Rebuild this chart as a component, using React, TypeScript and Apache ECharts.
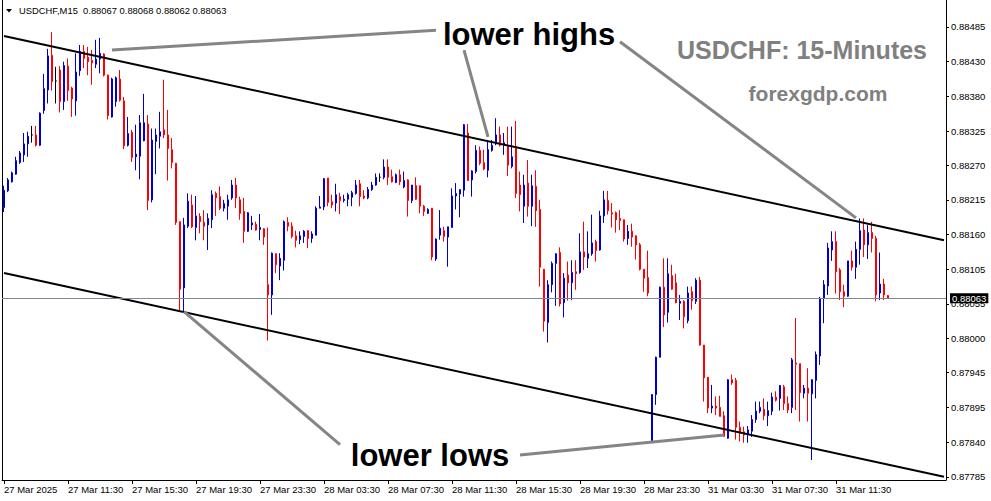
import React, { useEffect, useRef } from "react";
import * as echarts from "echarts";

// [open, close, low, high] per 15-minute candle
const session27Mar: number[][] = [
  [0.88204, 0.88231, 0.88197, 0.88238], [0.8823, 0.88247, 0.88228, 0.8825], [0.88244, 0.88258, 0.88243, 0.8826],
  [0.88256, 0.88277, 0.88255, 0.88283], [0.88274, 0.88289, 0.88272, 0.88292], [0.88286, 0.88303, 0.88275, 0.8832],
  [0.88303, 0.88315, 0.88283, 0.88322], [0.88317, 0.88317, 0.88305, 0.88331], [0.88317, 0.88301, 0.88299, 0.88331],
  [0.88301, 0.88351, 0.883, 0.88352], [0.88355, 0.88389, 0.8835, 0.88412], [0.88387, 0.8844, 0.88366, 0.88451],
  [0.88441, 0.884, 0.88386, 0.88477], [0.88401, 0.88401, 0.88366, 0.88423], [0.88418, 0.88369, 0.88352, 0.88424],
  [0.88369, 0.88425, 0.88356, 0.88431], [0.88424, 0.88386, 0.8837, 0.88436], [0.8839, 0.88373, 0.88345, 0.88392],
  [0.8837, 0.88415, 0.88347, 0.88444], [0.88417, 0.88447, 0.88409, 0.88457], [0.88447, 0.88436, 0.88421, 0.88457],
  [0.88438, 0.88431, 0.8841, 0.88454], [0.88433, 0.88429, 0.88395, 0.88449], [0.88427, 0.88435, 0.88421, 0.88465],
  [0.88435, 0.88444, 0.88413, 0.88468], [0.88443, 0.8841, 0.88408, 0.88444], [0.8841, 0.88347, 0.88341, 0.88411],
  [0.88345, 0.88404, 0.88344, 0.88406], [0.88369, 0.88406, 0.88361, 0.88408], [0.88404, 0.88371, 0.88369, 0.88418],
  [0.8837, 0.883, 0.88295, 0.88376], [0.88301, 0.88319, 0.88299, 0.88345], [0.88321, 0.88282, 0.88275, 0.88325],
  [0.88283, 0.88287, 0.88262, 0.88333], [0.88284, 0.88336, 0.88248, 0.88348], [0.88308, 0.88336, 0.88307, 0.88381],
  [0.88334, 0.88215, 0.882, 0.88348], [0.88216, 0.88309, 0.88212, 0.88327], [0.88307, 0.88317, 0.88256, 0.88327],
  [0.88315, 0.88322, 0.88296, 0.88353], [0.88325, 0.88317, 0.88312, 0.88403], [0.88317, 0.88296, 0.88246, 0.88356],
  [0.88294, 0.88274, 0.88265, 0.88312], [0.88273, 0.88181, 0.88177, 0.88273], [0.88182, 0.88077, 0.88042, 0.88182],
  [0.88079, 0.88177, 0.88041, 0.88188], [0.88175, 0.88214, 0.88172, 0.88226], [0.88208, 0.88174, 0.88172, 0.88224],
  [0.88173, 0.88191, 0.88153, 0.88222], [0.8819, 0.88182, 0.88164, 0.88195], [0.88181, 0.88175, 0.88153, 0.882],
  [0.88177, 0.88187, 0.88138, 0.88195], [0.88185, 0.88224, 0.88172, 0.88231], [0.88226, 0.88219, 0.88191, 0.88229],
  [0.88221, 0.88203, 0.882, 0.88237], [0.88203, 0.8821, 0.88198, 0.88216], [0.88206, 0.88216, 0.88185, 0.88224],
  [0.88219, 0.88239, 0.88216, 0.88247], [0.88239, 0.88219, 0.88203, 0.8825], [0.88216, 0.88195, 0.88185, 0.88221],
  [0.88198, 0.88167, 0.88149, 0.88219], [0.88167, 0.88196, 0.88166, 0.88197], [0.88177, 0.8818, 0.88169, 0.88191],
  [0.88178, 0.88169, 0.88168, 0.88182], [0.8817, 0.88173, 0.88153, 0.88194], [0.88171, 0.88158, 0.88146, 0.88172],
];

const session28Mar: number[][] = [
  [0.88084, 0.88068, 0.87997, 0.88173], [0.88068, 0.88133, 0.88037, 0.88134], [0.88132, 0.88115, 0.88102, 0.88133],
  [0.88113, 0.88125, 0.88091, 0.88133], [0.88122, 0.88182, 0.88106, 0.88184], [0.88181, 0.88175, 0.88167, 0.88189],
  [0.88175, 0.88159, 0.88156, 0.88181], [0.8816, 0.88153, 0.88142, 0.88168], [0.88154, 0.8816, 0.88147, 0.88167],
  [0.88159, 0.88167, 0.88149, 0.88169], [0.88168, 0.88156, 0.88141, 0.88169], [0.88156, 0.88163, 0.88149, 0.88167],
  [0.88161, 0.88203, 0.88161, 0.88206], [0.88203, 0.88205, 0.88203, 0.88222], [0.88205, 0.88249, 0.882, 0.8825],
  [0.8825, 0.88212, 0.88206, 0.8825], [0.88213, 0.88208, 0.88203, 0.88224], [0.88211, 0.88224, 0.88198, 0.88241],
  [0.88221, 0.88215, 0.88194, 0.88227], [0.88215, 0.88217, 0.88212, 0.88224], [0.88217, 0.88224, 0.88206, 0.88227],
  [0.8822, 0.88227, 0.88206, 0.8823], [0.88226, 0.88239, 0.88224, 0.88247], [0.88241, 0.88221, 0.88206, 0.88247],
  [0.88222, 0.88219, 0.88217, 0.88231], [0.88219, 0.88232, 0.88217, 0.88236], [0.88232, 0.88239, 0.8823, 0.88244],
  [0.88239, 0.88251, 0.88238, 0.88257], [0.88251, 0.88251, 0.88244, 0.88257], [0.88251, 0.88267, 0.88248, 0.88279],
  [0.88267, 0.88251, 0.88239, 0.88279], [0.88252, 0.88244, 0.88243, 0.88263], [0.88243, 0.88255, 0.88242, 0.88257],
  [0.88255, 0.88244, 0.88239, 0.88263], [0.88236, 0.88246, 0.88234, 0.8826], [0.88247, 0.88215, 0.8819, 0.88248],
  [0.88215, 0.88239, 0.88211, 0.88239], [0.88238, 0.88217, 0.88216, 0.88251], [0.88238, 0.88206, 0.88195, 0.88238],
  [0.88206, 0.88198, 0.88191, 0.88208], [0.88195, 0.88201, 0.88194, 0.88203], [0.88203, 0.88127, 0.88122, 0.88203],
  [0.88124, 0.88155, 0.88121, 0.88156], [0.88161, 0.88172, 0.88154, 0.882], [0.88168, 0.88159, 0.88151, 0.88174],
  [0.88158, 0.88174, 0.88112, 0.88174], [0.88173, 0.88222, 0.88173, 0.88234], [0.88222, 0.88226, 0.88201, 0.88242],
  [0.88225, 0.88232, 0.88189, 0.88232], [0.88231, 0.88333, 0.88221, 0.88334], [0.8832, 0.88246, 0.88246, 0.88334],
  [0.88247, 0.88261, 0.88221, 0.88262], [0.8826, 0.88293, 0.88257, 0.88301], [0.88293, 0.88273, 0.8827, 0.88299],
  [0.88274, 0.88264, 0.88262, 0.88294], [0.88262, 0.88294, 0.88251, 0.88309], [0.88293, 0.88301, 0.88291, 0.88309],
  [0.88303, 0.88317, 0.88301, 0.88343], [0.88317, 0.88301, 0.88299, 0.8833], [0.88301, 0.88305, 0.88286, 0.8832],
  [0.883, 0.8827, 0.88253, 0.8833], [0.88268, 0.88283, 0.88265, 0.8833], [0.88299, 0.88226, 0.88219, 0.88339],
  [0.88239, 0.88224, 0.88198, 0.8826], [0.88206, 0.88239, 0.8818, 0.88255], [0.88242, 0.88206, 0.8819, 0.88278],
  [0.88206, 0.88238, 0.88175, 0.88255], [0.88237, 0.88199, 0.88174, 0.88262], [0.88201, 0.88111, 0.88081, 0.88216],
  [0.88108, 0.88027, 0.88011, 0.88108], [0.88025, 0.88084, 0.87994, 0.88091], [0.88084, 0.88117, 0.88072, 0.8812],
  [0.88117, 0.88132, 0.88051, 0.88133], [0.88134, 0.88054, 0.8805, 0.88142], [0.88056, 0.88094, 0.88033, 0.88102],
  [0.88099, 0.88087, 0.88059, 0.8812], [0.88087, 0.88103, 0.8806, 0.88122], [0.88104, 0.88101, 0.88076, 0.88122],
  [0.88103, 0.88135, 0.88101, 0.88164], [0.88135, 0.88127, 0.88107, 0.88182], [0.88125, 0.88132, 0.8811, 0.88167],
  [0.88132, 0.88149, 0.88129, 0.88193], [0.88151, 0.88137, 0.8812, 0.88154], [0.88138, 0.88191, 0.88137, 0.88199],
  [0.88191, 0.88216, 0.8818, 0.8823], [0.88215, 0.88199, 0.88193, 0.8823], [0.88196, 0.88194, 0.88173, 0.88211],
  [0.88196, 0.88185, 0.88165, 0.88198], [0.88187, 0.88184, 0.88169, 0.882], [0.88185, 0.88155, 0.88151, 0.88185],
  [0.88156, 0.88167, 0.88146, 0.88177], [0.88167, 0.88158, 0.88143, 0.88179], [0.8816, 0.88146, 0.88123, 0.88161],
  [0.88146, 0.88108, 0.88106, 0.88149], [0.88108, 0.88094, 0.88073, 0.88108], [0.88095, 0.88071, 0.88066, 0.88137],
];

const session31Mar: number[][] = [
  [0.87841, 0.87913, 0.8784, 0.87913], [0.87913, 0.87971, 0.87897, 0.87972], [0.87971, 0.8808, 0.87971, 0.88081],
  [0.8808, 0.88037, 0.88018, 0.88125], [0.88041, 0.88101, 0.88025, 0.88125], [0.88098, 0.88077, 0.88076, 0.88115],
  [0.88087, 0.88056, 0.88055, 0.88101], [0.88055, 0.88058, 0.88029, 0.88068], [0.88058, 0.88034, 0.88016, 0.8806],
  [0.88028, 0.88071, 0.88024, 0.88081], [0.88073, 0.88059, 0.88045, 0.88081], [0.88058, 0.88091, 0.88054, 0.88094],
  [0.88091, 0.8799, 0.87989, 0.88096], [0.8799, 0.87939, 0.87902, 0.8799], [0.8794, 0.87892, 0.87884, 0.8794],
  [0.87892, 0.87895, 0.87884, 0.87928], [0.87895, 0.87892, 0.87881, 0.8791], [0.87893, 0.87879, 0.87879, 0.87911],
  [0.8788, 0.87848, 0.87847, 0.87887], [0.87845, 0.87936, 0.87844, 0.87937], [0.87936, 0.87931, 0.87928, 0.87944],
  [0.87935, 0.87862, 0.87843, 0.87939], [0.87862, 0.87854, 0.8784, 0.87871], [0.87855, 0.8785, 0.87838, 0.87863],
  [0.87852, 0.87858, 0.87838, 0.87864], [0.87856, 0.87874, 0.87847, 0.87881], [0.87874, 0.87887, 0.87869, 0.87902],
  [0.87887, 0.87893, 0.87884, 0.87902], [0.8789, 0.8788, 0.87873, 0.87907], [0.8788, 0.87888, 0.87864, 0.87902],
  [0.87887, 0.87909, 0.87881, 0.87916], [0.87909, 0.87904, 0.87902, 0.87918], [0.87907, 0.87927, 0.87888, 0.87928],
  [0.87925, 0.87899, 0.87889, 0.87928], [0.87899, 0.87889, 0.87884, 0.8791], [0.87893, 0.87967, 0.87884, 0.8797],
  [0.87962, 0.8796, 0.87889, 0.88032], [0.87961, 0.87916, 0.87871, 0.87961], [0.87915, 0.87923, 0.87907, 0.87928],
  [0.87923, 0.87915, 0.87871, 0.87954], [0.87914, 0.87936, 0.87811, 0.87937], [0.87935, 0.87975, 0.87907, 0.8798],
  [0.87973, 0.88063, 0.87959, 0.88065], [0.88063, 0.88084, 0.88024, 0.88091], [0.88082, 0.88141, 0.88068, 0.88149],
  [0.88138, 0.88151, 0.88121, 0.88167], [0.88151, 0.88104, 0.8807, 0.88167], [0.88107, 0.88073, 0.8806, 0.8811],
  [0.88073, 0.88066, 0.88049, 0.88084], [0.88066, 0.88121, 0.88065, 0.88121], [0.88121, 0.88111, 0.88106, 0.88137],
  [0.88111, 0.88139, 0.88093, 0.88151], [0.88139, 0.88168, 0.88115, 0.88187], [0.88169, 0.88146, 0.88127, 0.88187],
  [0.88146, 0.88165, 0.88124, 0.88177], [0.88165, 0.88156, 0.88134, 0.88182], [0.88156, 0.88068, 0.88058, 0.8816],
  [0.88071, 0.88085, 0.8806, 0.88134], [0.88085, 0.88068, 0.8806, 0.88093], [0.88067, 0.88063, 0.88062, 0.88068],
];

const xSlotCount = 236; // candle slots including the empty shift on the right
const xTickStep = 16;
const xTickLabels = [
  "27 Mar 2025", "27 Mar 11:30", "27 Mar 15:30", "27 Mar 19:30", "27 Mar 23:30",
  "28 Mar 03:30", "28 Mar 07:30", "28 Mar 11:30", "28 Mar 15:30", "28 Mar 19:30",
  "28 Mar 23:30", "31 Mar 03:30", "31 Mar 07:30", "31 Mar 11:30",
];
const yTickValues = [
  0.87785, 0.87839, 0.87893, 0.87947, 0.88, 0.88054, 0.88108,
  0.88162, 0.88216, 0.8827, 0.88323, 0.88377, 0.88431, 0.88485,
];
const yTickLabels = [
  "0.87785", "0.87840", "0.87895", "0.87945", "0.88000", "0.88055", "0.88105",
  "0.88160", "0.88215", "0.88270", "0.88325", "0.88380", "0.88430", "0.88485",
];
const yMin = 0.8778;
const yMax = 0.88527;
const lastPrice = 0.88063;
const headerText = "USDCHF,M15  0.88067 0.88068 0.88062 0.88063";

// channel lines: [slot index, price]
const upperChannel = [[0, 0.88471], [235, 0.88153]];
const lowerChannel = [[0, 0.88102], [235, 0.87785]];
// pointer lines from the annotation texts
const pointerLines = [
  [[27, 0.88449], [108, 0.8848]],
  [[115, 0.88449], [121, 0.88314]],
  [[154, 0.88462], [213, 0.88188]],
  [[45, 0.88042], [84, 0.87835]],
  [[129, 0.87819], [180, 0.8785]],
];

const FONT = '"Liberation Sans", Arial, sans-serif';

export default function App() {
  const ref = useRef<HTMLDivElement>(null);

  useEffect(() => {
    if (!ref.current) return;
    const chart = echarts.init(ref.current, null, { renderer: "svg" });
    const candles = [...session27Mar, ...session28Mar, ...session31Mar];
    const categories = Array.from({ length: xSlotCount }, (_, i) => "s" + i);
    const showTick = (i: number) => i % xTickStep === 0 && i / xTickStep < xTickLabels.length;

    const markData: any[] = [
      [
        { coord: upperChannel[0], lineStyle: { color: "#000", width: 2, type: "solid" } },
        { coord: upperChannel[1] },
      ],
      [
        { coord: lowerChannel[0], lineStyle: { color: "#000", width: 2, type: "solid" } },
        { coord: lowerChannel[1] },
      ],
      ...pointerLines.map((p) => [
        { coord: p[0], lineStyle: { color: "#858585", width: 3, type: "solid" } },
        { coord: p[1] },
      ]),
      {
        yAxis: lastPrice,
        lineStyle: { color: "#7a8899", width: 1, type: "solid" },
        label: {
          show: true,
          position: "end",
          distance: 4,
          formatter: lastPrice.toFixed(5),
          color: "#fff",
          backgroundColor: "#000",
          fontFamily: FONT,
          fontSize: 9.5,
          lineHeight: 10,
          padding: [0, 2, 0, 2],
        },
      },
    ];

    chart.setOption({
      animation: false,
      backgroundColor: "#fff",
      grid: { left: 2, right: 45, top: 0, bottom: 21, containLabel: false },
      xAxis: {
        type: "category",
        data: categories,
        boundaryGap: true,
        axisLine: { show: true, lineStyle: { color: "#000", width: 1 } },
        axisTick: {
          show: true,
          alignWithLabel: true,
          interval: (i: number) => showTick(i),
          length: 4,
          lineStyle: { color: "#000" },
        },
        axisLabel: {
          interval: (i: number) => showTick(i),
          formatter: (_v: string, i: number) => xTickLabels[i / xTickStep] ?? "",
          align: "left",
          margin: 4,
          fontSize: 9.5,
          fontFamily: FONT,
          color: "#000",
        },
        splitLine: { show: false },
      },
      yAxis: [
        {
          type: "value",
          position: "right",
          min: yMin,
          max: yMax,
          axisLine: { show: true, lineStyle: { color: "#000", width: 1 } },
          axisTick: { show: true, length: 3, customValues: yTickValues, lineStyle: { color: "#000" } },
          axisLabel: {
            customValues: yTickValues,
            formatter: (v: number) => {
              let best = 0;
              for (let k = 1; k < yTickValues.length; k++) {
                if (Math.abs(yTickValues[k] - v) < Math.abs(yTickValues[best] - v)) best = k;
              }
              return yTickLabels[best];
            },
            margin: 5,
            fontSize: 9.5,
            fontFamily: FONT,
            color: "#000",
          },
          splitLine: { show: false },
        },
        {
          type: "value",
          position: "left",
          min: yMin,
          max: yMax,
          axisLine: { show: true, lineStyle: { color: "#000", width: 1 } },
          axisTick: { show: false },
          axisLabel: { show: false },
          splitLine: { show: false },
        },
      ],
      series: [
        {
          type: "candlestick",
          yAxisIndex: 0,
          data: candles,
          barWidth: 2,
          itemStyle: {
            color: "#0000cd",
            color0: "#ff0000",
            borderColor: "#0000cd",
            borderColor0: "#ff0000",
            borderColorDoji: "#000",
            borderWidth: 1,
          },
          markLine: {
            silent: true,
            precision: 5,
            symbol: ["none", "none"],
            label: { show: false },
            emphasis: { disabled: true },
            data: markData,
          },
        },
      ],
      graphic: [
        {
          type: "polygon",
          shape: { points: [[6, 9], [12, 9], [9, 12.5]] },
          style: { fill: "#000" },
        },
        {
          type: "text",
          x: 19,
          y: 10,
          style: { text: headerText, fill: "#000", font: `9.4px ${FONT}`, textAlign: "left", textVerticalAlign: "middle" },
        },
        {
          type: "text",
          x: 529,
          y: 34,
          style: { text: "lower highs", fill: "#000", font: `bold 31px ${FONT}`, textAlign: "center", textVerticalAlign: "middle" },
        },
        {
          type: "text",
          x: 430,
          y: 455,
          style: { text: "lower lows", fill: "#000", font: `bold 31px ${FONT}`, textAlign: "center", textVerticalAlign: "middle" },
        },
        {
          type: "text",
          x: 802,
          y: 50,
          style: { text: "USDCHF: 15-Minutes", fill: "#808080", font: `bold 25px ${FONT}`, textAlign: "center", textVerticalAlign: "middle" },
        },
        {
          type: "text",
          x: 818,
          y: 93,
          style: { text: "forexgdp.com", fill: "#808080", font: `bold 21px ${FONT}`, textAlign: "center", textVerticalAlign: "middle" },
        },
      ],
    });

    return () => chart.dispose();
  }, []);

  return (
    <div
      ref={ref}
      style={{ position: "fixed", left: 0, top: 0, width: 991, height: 501, background: "#fff" }}
    />
  );
}
